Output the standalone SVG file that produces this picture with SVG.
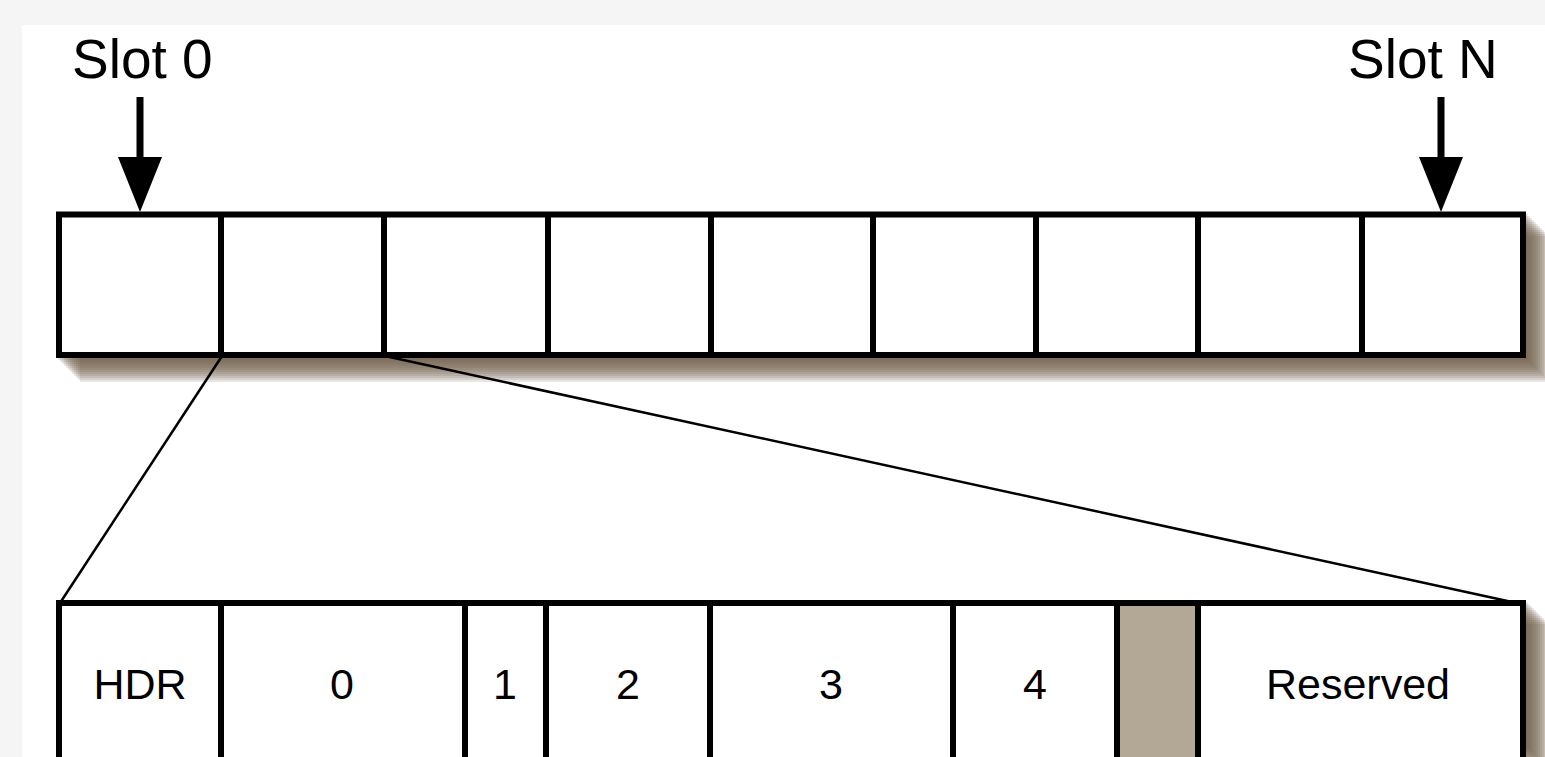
<svg xmlns="http://www.w3.org/2000/svg" width="1545" height="757" viewBox="0 0 1545 757">
<style>
.box{fill:#ffffff;stroke:#000;stroke-width:6}
.div{stroke:#000;stroke-width:6;fill:none}
.sh{fill:#6e5a45;fill-opacity:0.15}
.lbl{font-family:"Liberation Sans",Arial,sans-serif;font-size:43px;fill:#000;text-anchor:middle}
.slot{font-family:"Liberation Sans",Arial,sans-serif;font-size:55px;fill:#000}
.conn{stroke:#000;stroke-width:2.5;fill:none}
</style>
<defs>
<g id="topShadow">
<rect x="58" y="214" width="1470" height="146" class="sh"/>
<rect x="60" y="216" width="1470" height="146" class="sh"/>
<rect x="62" y="218" width="1470" height="146" class="sh"/>
<rect x="64" y="220" width="1470" height="146" class="sh"/>
<rect x="66" y="222" width="1470" height="146" class="sh"/>
<rect x="68" y="224" width="1470" height="146" class="sh"/>
<rect x="70" y="226" width="1470" height="146" class="sh"/>
<rect x="72" y="228" width="1470" height="146" class="sh"/>
<rect x="74" y="230" width="1470" height="146" class="sh"/>
<rect x="76" y="232" width="1470" height="146" class="sh"/>
<rect x="78" y="234" width="1470" height="146" class="sh"/>
<rect x="80" y="236" width="1470" height="146" class="sh"/>
</g>
</defs>
<rect x="0" y="0" width="1545" height="757" fill="#f5f5f5"/>
<rect x="22" y="25" width="1523" height="732" fill="#ffffff"/>

<use href="#topShadow"/>
<use href="#topShadow" transform="translate(0,388)"/>

<g id="connectors">
<line x1="222" y1="356" x2="60" y2="603" class="conn"/>
<line x1="385" y1="356" x2="1512" y2="602" class="conn"/>
<path d="M140,97 V160" stroke="#000" stroke-width="7" fill="none"/>
<polygon points="118,157 162,157 140,212" fill="#000"/>
<path d="M1441,97 V160" stroke="#000" stroke-width="7" fill="none"/>
<polygon points="1419,157 1463,157 1441,212" fill="#000"/>
</g>

<g id="slot0-label"><text x="72" y="78" class="slot">Slot 0</text></g>
<g id="slotN-label"><text x="1348" y="78" class="slot">Slot N</text></g>

<g id="slot-array">
<rect x="59" y="214.5" width="1464" height="140.5" class="box"/>
<path d="M221,214.5V355M384,214.5V355M548,214.5V355M711,214.5V355M873,214.5V355M1036,214.5V355M1198,214.5V355M1362,214.5V355" class="div"/>
</g>

<g id="slot-detail">
<rect x="59" y="603" width="1464" height="200" class="box"/>
<rect x="1117" y="603" width="81" height="200" fill="#b3a796"/>
<path d="M221,603V803M465,603V803M546,603V803M710,603V803M953,603V803M1117,603V803M1198,603V803" class="div"/>
<rect x="59" y="603" width="1464" height="200" fill="none" stroke="#000" stroke-width="6"/>
</g>

<g id="field-hdr"><text x="140" y="699" class="lbl">HDR</text></g>
<g id="field-0"><text x="342" y="699" class="lbl">0</text></g>
<g id="field-1"><text x="505" y="699" class="lbl">1</text></g>
<g id="field-2"><text x="628" y="699" class="lbl">2</text></g>
<g id="field-3"><text x="831" y="699" class="lbl">3</text></g>
<g id="field-4"><text x="1035" y="699" class="lbl">4</text></g>
<g id="field-reserved"><text x="1358" y="699" class="lbl">Reserved</text></g>
</svg>
